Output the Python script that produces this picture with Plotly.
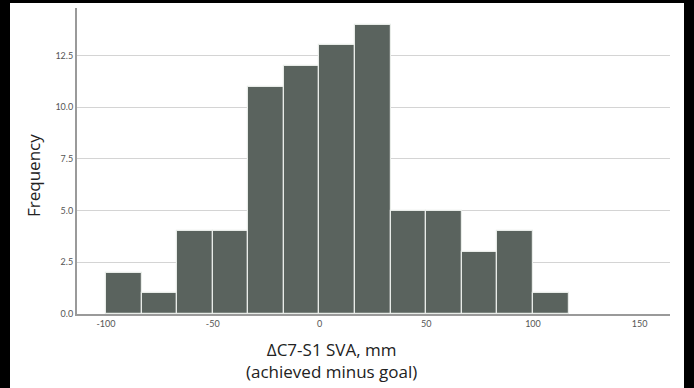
import plotly.graph_objects as go

bin_start = -100.0
bin_width = 50.0 / 3.0
counts = [2, 1, 4, 4, 11, 12, 13, 14, 5, 5, 3, 4, 1]
x_ticks = [-100, -50, 0, 50, 100, 150]
y_ticks = [0, 2.5, 5, 7.5, 10, 12.5]
y_tick_labels = ["0.0", "2.5", "5.0", "7.5", "10.0", "12.5"]
x_title = "ΔC7-S1 SVA, mm<br>(achieved minus goal)"
y_title = "Frequency"

centers = [bin_start + bin_width * (i + 0.5) for i in range(len(counts))]

fig = go.Figure()
fig.add_trace(go.Bar(
    x=centers, y=counts, width=[bin_width] * len(counts),
    marker=dict(color="#5a635e", line=dict(color="#e8ece8", width=1.2)),
    hoverinfo="skip",
))

W, H = 694, 388
L, R, T, B = 77, 24, 8, 74
pw, ph = W - L - R, H - T - B

def px(x):
    return (x - L) / pw

def py(y):
    return (H - B - y) / ph

fig.add_shape(type="rect", xref="paper", yref="paper",
              x0=px(10), x1=px(684), y0=py(H + 5), y1=py(3),
              fillcolor="white", line=dict(width=0), layer="below")

fig.add_annotation(text=x_title, xref="paper", yref="paper",
                   x=px(331), y=py(360), xanchor="center", yanchor="middle",
                   showarrow=False,
                   font=dict(family="Open Sans, sans-serif", size=17, color="#222"))
fig.add_annotation(text=y_title, xref="paper", yref="paper",
                   x=px(33), y=py(176), xanchor="center", yanchor="middle",
                   textangle=-90, showarrow=False,
                   font=dict(family="Open Sans, sans-serif", size=17, color="#222"))

fig.update_layout(
    width=W, height=H,
    margin=dict(l=L, r=R, t=T, b=B, autoexpand=False),
    paper_bgcolor="black", plot_bgcolor="white",
    showlegend=False,
    bargap=0,
    font=dict(family="Lato, Open Sans, sans-serif", color="#555"),
    xaxis=dict(
        range=[-113.6, 164.2], automargin=False,
        tickmode="array", tickvals=x_ticks,
        ticktext=[str(v) for v in x_ticks],
        tickfont=dict(size=9, color="#555"),
        showgrid=False, zeroline=False,
        showline=True, linecolor="#9a9a9a", linewidth=2,
        ticks="", ticklen=0,
    ),
    yaxis=dict(
        range=[0, 14.8], automargin=False,
        tickmode="array", tickvals=y_ticks, ticktext=y_tick_labels,
        tickfont=dict(size=9, color="#555"),
        showgrid=True, gridcolor="#d4d4d4", gridwidth=1,
        zeroline=False,
        showline=True, linecolor="#9a9a9a", linewidth=2,
        ticks="", ticklen=0,
    ),
)

fig.write_html("out.html", config={"displayModeBar": False},
               post_script="document.body.style.margin='0';document.body.style.overflow='hidden';")
